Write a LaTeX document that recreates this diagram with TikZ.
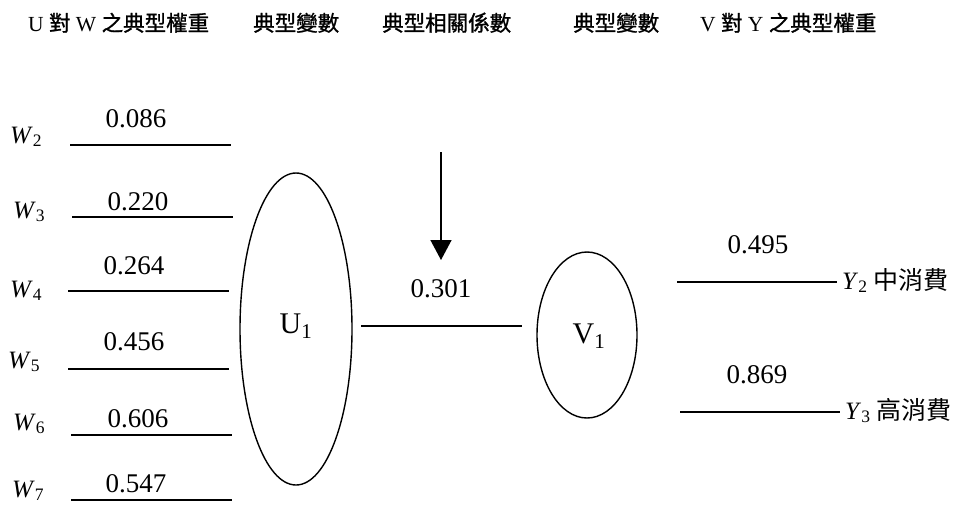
\documentclass[tikz,border=0pt]{standalone}
\usepackage{fontspec}
\setmainfont{Liberation Serif}
\newfontfamily\cjk{Noto Sans CJK TC}
\newfontfamily\cjkb{Noto Sans CJK TC}[FakeBold=1.2]
\usetikzlibrary{shapes.geometric,arrows.meta}
\begin{document}
\begin{tikzpicture}[x=1pt,y=-1pt,
  hdr/.style={anchor=base west,inner sep=0pt,font=\fontsize{21.5}{23}\selectfont},
  num/.style={anchor=base,inner sep=0pt,font=\fontsize{27}{29}\selectfont},
  var/.style={anchor=base west,inner sep=0pt,font=\fontsize{25}{27}\selectfont},
  wline/.style={line width=1.4pt},
  oval/.style={draw,ellipse,line width=1.4pt,inner sep=0pt}]
\useasboundingbox (0,0) rectangle (955,507);
% header
\node[hdr] (h1) at (28,31) {U {\cjkb 對} W {\cjkb 之典型權重}};
\node[hdr] (h2) at (253,31) {\cjkb 典型變數};
\node[hdr] (h3) at (382,31) {\cjkb 典型相關係數};
\node[hdr] (h4) at (573,31) {\cjkb 典型變數};
\node[hdr] (h5) at (700,31) {V {\cjkb 對} Y {\cjkb 之典型權重}};
% W labels
\node[var] (w2) at (10,143) {\textit{W}\textsubscript{2}};
\node[var] (w3) at (13,218) {\textit{W}\textsubscript{3}};
\node[var] (w4) at (10,297) {\textit{W}\textsubscript{4}};
\node[var] (w5) at (8,368) {\textit{W}\textsubscript{5}};
\node[var] (w6) at (13,430) {\textit{W}\textsubscript{6}};
\node[var] (w7) at (12,497) {\textit{W}\textsubscript{7}};
% weight lines
\coordinate (a2) at (70,145); \coordinate (b2) at (231,145);
\coordinate (a3) at (72,217); \coordinate (b3) at (233,217);
\coordinate (a4) at (68,291); \coordinate (b4) at (229,291);
\coordinate (a5) at (68,369); \coordinate (b5) at (229,369);
\coordinate (a6) at (71,435); \coordinate (b6) at (232,435);
\coordinate (a7) at (71,500); \coordinate (b7) at (232,500);
\foreach \i in {2,...,7} {\draw[wline] (a\i) -- (b\i);}
\node[num] (n2) at (136,127) {0.086};
\node[num] (n3) at (138,210) {0.220};
\node[num] (n4) at (134,274) {0.264};
\node[num] (n5) at (134,350) {0.456};
\node[num] (n6) at (138,427) {0.606};
\node[num] (n7) at (136,492) {0.547};
% canonical variates
\node[oval,minimum width=112pt,minimum height=312pt] (U) at (296,329) {};
\node[num,anchor=center,font=\fontsize{30}{32}\selectfont] (ulab) at (296,326) {U\textsubscript{1}};
\node[oval,minimum width=100pt,minimum height=166pt] (V) at (587,335) {};
\node[num,anchor=center,font=\fontsize{30}{32}\selectfont] (vlab) at (589,336) {V\textsubscript{1}};
% correlation
\coordinate (c1) at (361,326); \coordinate (c2) at (522,326);
\draw[wline] (c1) -- (c2);
\node[num] (r) at (441,297) {0.301};
\coordinate (arrtop) at (441,152); \coordinate (arrtip) at (441,260);
\draw[line width=1.4pt,-{Triangle[width=21pt,length=20pt]}] (arrtop) -- (arrtip);
% right side
\coordinate (y2a) at (677,282); \coordinate (y2b) at (837,282);
\coordinate (y3a) at (680,412); \coordinate (y3b) at (840,412);
\draw[wline] (y2a) -- (y2b);
\draw[wline] (y3a) -- (y3b);
\node[num] (m2) at (758,253) {0.495};
\node[num] (m3) at (757,383) {0.869};
\node[var] (y2) at (842,289) {\textit{Y}\textsubscript{2} {\cjk 中消費}};
\node[var] (y3) at (845,419) {\textit{Y}\textsubscript{3} {\cjk 高消費}};
\end{tikzpicture}
\end{document}
